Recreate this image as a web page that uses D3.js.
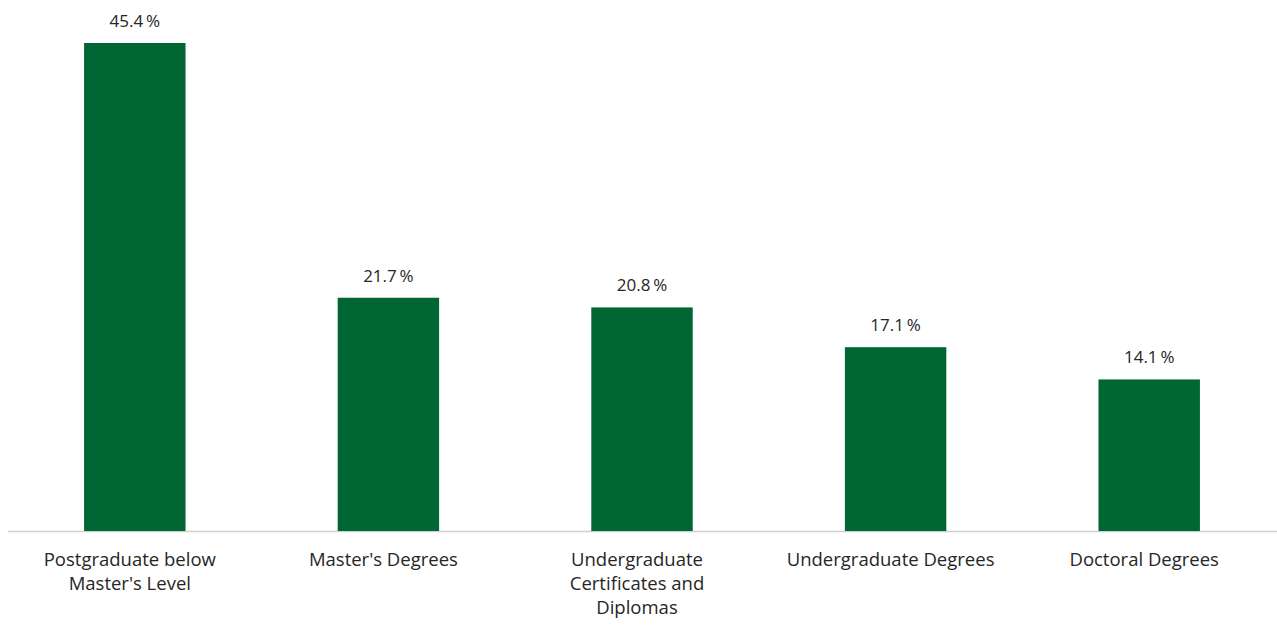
<!DOCTYPE html>
<html><head><meta charset="utf-8">
<script src="https://cdn.jsdelivr.net/npm/d3@7"></script>
<style>body{margin:0;background:#fff}svg{display:block}text{font-family:"Open Sans",sans-serif;fill:#262626}</style>
</head><body><svg id="c" width="1277" height="626"></svg>
<script>
const categories = [["Postgraduate below","Master's Level"],["Master's Degrees"],["Undergraduate","Certificates and","Diplomas"],["Undergraduate Degrees"],["Doctoral Degrees"]];
const values = [45.4, 21.7, 20.8, 17.1, 14.1];
const labels = ["45.4\u2009%","21.7\u2009%","20.8\u2009%","17.1\u2009%","14.1\u2009%"];

const svg = d3.select("#c");
const ids = d3.range(values.length);
const x = d3.scaleBand().domain(ids).range([8, 1276]).paddingInner(0.6).paddingOuter(0.3);
const y = d3.scaleLinear().domain([0, 45.4]).range([531, 43]);
const labelShift = -5;

svg.append("line").attr("x1", 8).attr("x2", 1277).attr("y1", 531.5).attr("y2", 531.5)
  .attr("stroke", "#d0d0d0").attr("stroke-width", 1.5);

svg.selectAll("rect.bar").data(values).join("rect").attr("class","bar")
  .attr("x", (d,i) => x(i)).attr("width", x.bandwidth())
  .attr("y", d => y(d)).attr("height", d => y(0) - y(d)).attr("fill", "#006633");

svg.selectAll("text.val").data(values).join("text").attr("class","val")
  .attr("x", (d,i) => x(i) + x.bandwidth()/2).attr("y", d => y(d) - 16)
  .attr("text-anchor","middle").attr("font-size", 17).text((d,i) => labels[i]);

const cat = svg.selectAll("text.cat").data(categories).join("text").attr("class","cat")
  .attr("x", (d,i) => x(i) + x.bandwidth()/2 + labelShift).attr("y", 566)
  .attr("text-anchor","middle").attr("font-size", 18.5);
cat.each(function(d,i){
  const t = d3.select(this);
  d.forEach((line, j) => t.append("tspan").attr("x", x(i) + x.bandwidth()/2 + labelShift).attr("dy", j ? 24 : 0).text(line));
});
</script></body></html>
